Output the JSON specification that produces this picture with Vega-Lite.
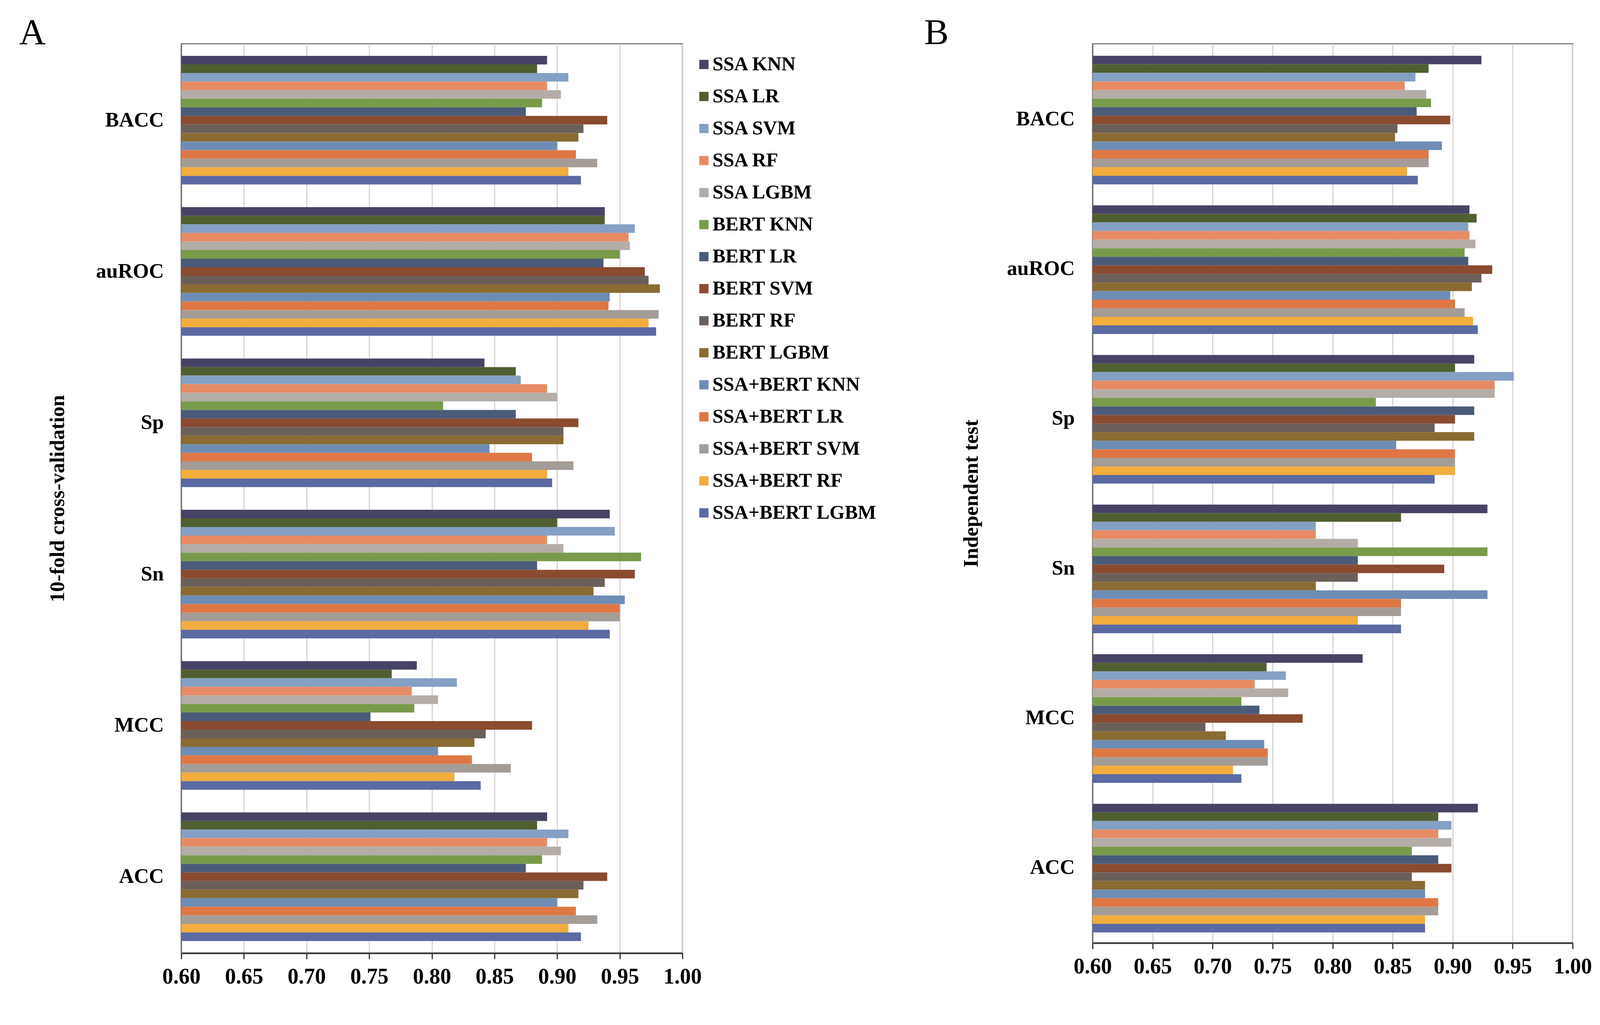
{
  "$schema": "https://vega.github.io/schema/vega-lite/v6.json",
  "background": "white",
  "padding": {"left": 47, "top": 36, "right": 40, "bottom": 30},
  "bounds": "flush",
  "spacing": 1050,
  "config": {
    "font": "Liberation Serif",
    "view": {"stroke": "#7d7874", "strokeWidth": 3},
    "axis": {"labelFont": "Liberation Serif", "titleFont": "Liberation Serif", "labelColor": "black", "titleColor": "black", "labelFontWeight": "bold", "titleFontWeight": "bold", "labelFontSize": 53, "titleFontSize": 53},
    "title": {"font": "Liberation Serif", "fontSize": 94, "fontWeight": "normal", "color": "black", "anchor": "start", "frame": "group"}
  },
  "datasets": {
    "cv": [
      {"metric":"BACC","model":"SSA KNN","value":0.892},{"metric":"BACC","model":"SSA LR","value":0.884},{"metric":"BACC","model":"SSA SVM","value":0.909},{"metric":"BACC","model":"SSA RF","value":0.892},{"metric":"BACC","model":"SSA LGBM","value":0.903},{"metric":"BACC","model":"BERT KNN","value":0.888},{"metric":"BACC","model":"BERT LR","value":0.875},{"metric":"BACC","model":"BERT SVM","value":0.940},{"metric":"BACC","model":"BERT RF","value":0.921},{"metric":"BACC","model":"BERT LGBM","value":0.917},{"metric":"BACC","model":"SSA+BERT KNN","value":0.900},{"metric":"BACC","model":"SSA+BERT LR","value":0.915},{"metric":"BACC","model":"SSA+BERT SVM","value":0.932},{"metric":"BACC","model":"SSA+BERT RF","value":0.909},{"metric":"BACC","model":"SSA+BERT LGBM","value":0.919},
      {"metric":"auROC","model":"SSA KNN","value":0.938},{"metric":"auROC","model":"SSA LR","value":0.938},{"metric":"auROC","model":"SSA SVM","value":0.962},{"metric":"auROC","model":"SSA RF","value":0.957},{"metric":"auROC","model":"SSA LGBM","value":0.958},{"metric":"auROC","model":"BERT KNN","value":0.950},{"metric":"auROC","model":"BERT LR","value":0.937},{"metric":"auROC","model":"BERT SVM","value":0.970},{"metric":"auROC","model":"BERT RF","value":0.973},{"metric":"auROC","model":"BERT LGBM","value":0.982},{"metric":"auROC","model":"SSA+BERT KNN","value":0.942},{"metric":"auROC","model":"SSA+BERT LR","value":0.941},{"metric":"auROC","model":"SSA+BERT SVM","value":0.981},{"metric":"auROC","model":"SSA+BERT RF","value":0.973},{"metric":"auROC","model":"SSA+BERT LGBM","value":0.979},
      {"metric":"Sp","model":"SSA KNN","value":0.842},{"metric":"Sp","model":"SSA LR","value":0.867},{"metric":"Sp","model":"SSA SVM","value":0.871},{"metric":"Sp","model":"SSA RF","value":0.892},{"metric":"Sp","model":"SSA LGBM","value":0.900},{"metric":"Sp","model":"BERT KNN","value":0.809},{"metric":"Sp","model":"BERT LR","value":0.867},{"metric":"Sp","model":"BERT SVM","value":0.917},{"metric":"Sp","model":"BERT RF","value":0.905},{"metric":"Sp","model":"BERT LGBM","value":0.905},{"metric":"Sp","model":"SSA+BERT KNN","value":0.846},{"metric":"Sp","model":"SSA+BERT LR","value":0.880},{"metric":"Sp","model":"SSA+BERT SVM","value":0.913},{"metric":"Sp","model":"SSA+BERT RF","value":0.892},{"metric":"Sp","model":"SSA+BERT LGBM","value":0.896},
      {"metric":"Sn","model":"SSA KNN","value":0.942},{"metric":"Sn","model":"SSA LR","value":0.900},{"metric":"Sn","model":"SSA SVM","value":0.946},{"metric":"Sn","model":"SSA RF","value":0.892},{"metric":"Sn","model":"SSA LGBM","value":0.905},{"metric":"Sn","model":"BERT KNN","value":0.967},{"metric":"Sn","model":"BERT LR","value":0.884},{"metric":"Sn","model":"BERT SVM","value":0.962},{"metric":"Sn","model":"BERT RF","value":0.938},{"metric":"Sn","model":"BERT LGBM","value":0.929},{"metric":"Sn","model":"SSA+BERT KNN","value":0.954},{"metric":"Sn","model":"SSA+BERT LR","value":0.950},{"metric":"Sn","model":"SSA+BERT SVM","value":0.950},{"metric":"Sn","model":"SSA+BERT RF","value":0.925},{"metric":"Sn","model":"SSA+BERT LGBM","value":0.942},
      {"metric":"MCC","model":"SSA KNN","value":0.788},{"metric":"MCC","model":"SSA LR","value":0.768},{"metric":"MCC","model":"SSA SVM","value":0.820},{"metric":"MCC","model":"SSA RF","value":0.784},{"metric":"MCC","model":"SSA LGBM","value":0.805},{"metric":"MCC","model":"BERT KNN","value":0.786},{"metric":"MCC","model":"BERT LR","value":0.751},{"metric":"MCC","model":"BERT SVM","value":0.880},{"metric":"MCC","model":"BERT RF","value":0.843},{"metric":"MCC","model":"BERT LGBM","value":0.834},{"metric":"MCC","model":"SSA+BERT KNN","value":0.805},{"metric":"MCC","model":"SSA+BERT LR","value":0.832},{"metric":"MCC","model":"SSA+BERT SVM","value":0.863},{"metric":"MCC","model":"SSA+BERT RF","value":0.818},{"metric":"MCC","model":"SSA+BERT LGBM","value":0.839},
      {"metric":"ACC","model":"SSA KNN","value":0.892},{"metric":"ACC","model":"SSA LR","value":0.884},{"metric":"ACC","model":"SSA SVM","value":0.909},{"metric":"ACC","model":"SSA RF","value":0.892},{"metric":"ACC","model":"SSA LGBM","value":0.903},{"metric":"ACC","model":"BERT KNN","value":0.888},{"metric":"ACC","model":"BERT LR","value":0.875},{"metric":"ACC","model":"BERT SVM","value":0.940},{"metric":"ACC","model":"BERT RF","value":0.921},{"metric":"ACC","model":"BERT LGBM","value":0.917},{"metric":"ACC","model":"SSA+BERT KNN","value":0.900},{"metric":"ACC","model":"SSA+BERT LR","value":0.915},{"metric":"ACC","model":"SSA+BERT SVM","value":0.932},{"metric":"ACC","model":"SSA+BERT RF","value":0.909},{"metric":"ACC","model":"SSA+BERT LGBM","value":0.919}
    ],
    "ind": [
      {"metric":"BACC","model":"SSA KNN","value":0.924},{"metric":"BACC","model":"SSA LR","value":0.880},{"metric":"BACC","model":"SSA SVM","value":0.869},{"metric":"BACC","model":"SSA RF","value":0.860},{"metric":"BACC","model":"SSA LGBM","value":0.878},{"metric":"BACC","model":"BERT KNN","value":0.882},{"metric":"BACC","model":"BERT LR","value":0.870},{"metric":"BACC","model":"BERT SVM","value":0.898},{"metric":"BACC","model":"BERT RF","value":0.854},{"metric":"BACC","model":"BERT LGBM","value":0.852},{"metric":"BACC","model":"SSA+BERT KNN","value":0.891},{"metric":"BACC","model":"SSA+BERT LR","value":0.880},{"metric":"BACC","model":"SSA+BERT SVM","value":0.880},{"metric":"BACC","model":"SSA+BERT RF","value":0.862},{"metric":"BACC","model":"SSA+BERT LGBM","value":0.871},
      {"metric":"auROC","model":"SSA KNN","value":0.914},{"metric":"auROC","model":"SSA LR","value":0.920},{"metric":"auROC","model":"SSA SVM","value":0.913},{"metric":"auROC","model":"SSA RF","value":0.914},{"metric":"auROC","model":"SSA LGBM","value":0.919},{"metric":"auROC","model":"BERT KNN","value":0.910},{"metric":"auROC","model":"BERT LR","value":0.913},{"metric":"auROC","model":"BERT SVM","value":0.933},{"metric":"auROC","model":"BERT RF","value":0.924},{"metric":"auROC","model":"BERT LGBM","value":0.916},{"metric":"auROC","model":"SSA+BERT KNN","value":0.898},{"metric":"auROC","model":"SSA+BERT LR","value":0.902},{"metric":"auROC","model":"SSA+BERT SVM","value":0.910},{"metric":"auROC","model":"SSA+BERT RF","value":0.917},{"metric":"auROC","model":"SSA+BERT LGBM","value":0.921},
      {"metric":"Sp","model":"SSA KNN","value":0.918},{"metric":"Sp","model":"SSA LR","value":0.902},{"metric":"Sp","model":"SSA SVM","value":0.951},{"metric":"Sp","model":"SSA RF","value":0.935},{"metric":"Sp","model":"SSA LGBM","value":0.935},{"metric":"Sp","model":"BERT KNN","value":0.836},{"metric":"Sp","model":"BERT LR","value":0.918},{"metric":"Sp","model":"BERT SVM","value":0.902},{"metric":"Sp","model":"BERT RF","value":0.885},{"metric":"Sp","model":"BERT LGBM","value":0.918},{"metric":"Sp","model":"SSA+BERT KNN","value":0.853},{"metric":"Sp","model":"SSA+BERT LR","value":0.902},{"metric":"Sp","model":"SSA+BERT SVM","value":0.902},{"metric":"Sp","model":"SSA+BERT RF","value":0.902},{"metric":"Sp","model":"SSA+BERT LGBM","value":0.885},
      {"metric":"Sn","model":"SSA KNN","value":0.929},{"metric":"Sn","model":"SSA LR","value":0.857},{"metric":"Sn","model":"SSA SVM","value":0.786},{"metric":"Sn","model":"SSA RF","value":0.786},{"metric":"Sn","model":"SSA LGBM","value":0.821},{"metric":"Sn","model":"BERT KNN","value":0.929},{"metric":"Sn","model":"BERT LR","value":0.821},{"metric":"Sn","model":"BERT SVM","value":0.893},{"metric":"Sn","model":"BERT RF","value":0.821},{"metric":"Sn","model":"BERT LGBM","value":0.786},{"metric":"Sn","model":"SSA+BERT KNN","value":0.929},{"metric":"Sn","model":"SSA+BERT LR","value":0.857},{"metric":"Sn","model":"SSA+BERT SVM","value":0.857},{"metric":"Sn","model":"SSA+BERT RF","value":0.821},{"metric":"Sn","model":"SSA+BERT LGBM","value":0.857},
      {"metric":"MCC","model":"SSA KNN","value":0.825},{"metric":"MCC","model":"SSA LR","value":0.745},{"metric":"MCC","model":"SSA SVM","value":0.761},{"metric":"MCC","model":"SSA RF","value":0.735},{"metric":"MCC","model":"SSA LGBM","value":0.763},{"metric":"MCC","model":"BERT KNN","value":0.724},{"metric":"MCC","model":"BERT LR","value":0.739},{"metric":"MCC","model":"BERT SVM","value":0.775},{"metric":"MCC","model":"BERT RF","value":0.694},{"metric":"MCC","model":"BERT LGBM","value":0.711},{"metric":"MCC","model":"SSA+BERT KNN","value":0.743},{"metric":"MCC","model":"SSA+BERT LR","value":0.746},{"metric":"MCC","model":"SSA+BERT SVM","value":0.746},{"metric":"MCC","model":"SSA+BERT RF","value":0.717},{"metric":"MCC","model":"SSA+BERT LGBM","value":0.724},
      {"metric":"ACC","model":"SSA KNN","value":0.921},{"metric":"ACC","model":"SSA LR","value":0.888},{"metric":"ACC","model":"SSA SVM","value":0.899},{"metric":"ACC","model":"SSA RF","value":0.888},{"metric":"ACC","model":"SSA LGBM","value":0.899},{"metric":"ACC","model":"BERT KNN","value":0.866},{"metric":"ACC","model":"BERT LR","value":0.888},{"metric":"ACC","model":"BERT SVM","value":0.899},{"metric":"ACC","model":"BERT RF","value":0.866},{"metric":"ACC","model":"BERT LGBM","value":0.877},{"metric":"ACC","model":"SSA+BERT KNN","value":0.877},{"metric":"ACC","model":"SSA+BERT LR","value":0.888},{"metric":"ACC","model":"SSA+BERT SVM","value":0.888},{"metric":"ACC","model":"SSA+BERT RF","value":0.877},{"metric":"ACC","model":"SSA+BERT LGBM","value":0.877}
    ]
  },
  "resolve": {"legend": {"color": "independent"}},
  "hconcat": [
    {
      "title": {"text": "A", "dx": -415, "offset": -21},
      "data": {"name": "cv"},
      "width": 1283,
      "height": 2328,
      "mark": {"type": "bar"},
      "encoding": {
        "y": {"field": "metric", "type": "nominal", "sort": ["BACC","auROC","Sp","Sn","MCC","ACC"], "scale": {"paddingInner": 0.15, "paddingOuter": 0.08},
              "axis": {"title": "10-fold cross-validation", "ticks": false, "labelPadding": 45, "titlePadding": 90, "domainColor": "#6e6a66", "domainWidth": 3}},
        "yOffset": {"field": "model", "type": "nominal", "sort": ["SSA KNN","SSA LR","SSA SVM","SSA RF","SSA LGBM","BERT KNN","BERT LR","BERT SVM","BERT RF","BERT LGBM","SSA+BERT KNN","SSA+BERT LR","SSA+BERT SVM","SSA+BERT RF","SSA+BERT LGBM"], "scale": {"paddingInner": 0, "paddingOuter": 0}},
        "x": {"field": "value", "type": "quantitative", "scale": {"domain": [0.6, 1.0], "zero": false, "nice": false},
              "axis": {"title": null, "values": [0.6,0.65,0.7,0.75,0.8,0.85,0.9,0.95,1.0], "format": ".2f", "labelFontSize": 56, "labelFlush": false, "labelOverlap": false, "grid": true, "gridColor": "#d9d3d3", "gridWidth": 3, "tickSize": 15, "tickWidth": 3, "tickColor": "#333333", "domainColor": "#333333", "domainWidth": 4, "labelPadding": 18}},
        "x2": {"datum": 0.6},
        "color": {"field": "model", "type": "nominal",
                  "scale": {"domain": ["SSA KNN","SSA LR","SSA SVM","SSA RF","SSA LGBM","BERT KNN","BERT LR","BERT SVM","BERT RF","BERT LGBM","SSA+BERT KNN","SSA+BERT LR","SSA+BERT SVM","SSA+BERT RF","SSA+BERT LGBM"],
                            "range": ["#474366","#4f5f30","#84a0c4","#e78b64","#b4aca7","#789b4a","#4a5b7a","#8a4b2f","#6b5f5a","#8a6b32","#6e8db5","#df7744","#a49c97","#f2ad3e","#5b6aa3"]},
                  "legend": {"title": null, "orient": "none", "legendX": 1313, "legendY": 28, "padding": 0, "symbolType": "square", "symbolSize": 560, "symbolStrokeWidth": 0, "labelFont": "Liberation Serif", "labelFontWeight": "bold", "labelFontSize": 50, "labelColor": "black", "labelOffset": -3, "rowPadding": 32, "labelLimit": 800}}
      }
    },
    {
      "title": {"text": "B", "dx": -431, "offset": -21},
      "data": {"name": "ind"},
      "width": 1229,
      "height": 2302,
      "mark": {"type": "bar"},
      "encoding": {
        "y": {"field": "metric", "type": "nominal", "sort": ["BACC","auROC","Sp","Sn","MCC","ACC"], "scale": {"paddingInner": 0.15, "paddingOuter": 0.08},
              "axis": {"title": "Independent test", "ticks": false, "labelPadding": 46, "titlePadding": 84, "domainColor": "#6e6a66", "domainWidth": 3}},
        "yOffset": {"field": "model", "type": "nominal", "sort": ["SSA KNN","SSA LR","SSA SVM","SSA RF","SSA LGBM","BERT KNN","BERT LR","BERT SVM","BERT RF","BERT LGBM","SSA+BERT KNN","SSA+BERT LR","SSA+BERT SVM","SSA+BERT RF","SSA+BERT LGBM"], "scale": {"paddingInner": 0, "paddingOuter": 0}},
        "x": {"field": "value", "type": "quantitative", "scale": {"domain": [0.6, 1.0], "zero": false, "nice": false},
              "axis": {"title": null, "values": [0.6,0.65,0.7,0.75,0.8,0.85,0.9,0.95,1.0], "format": ".2f", "labelFontSize": 56, "labelFlush": false, "labelOverlap": false, "grid": true, "gridColor": "#d9d3d3", "gridWidth": 3, "tickSize": 15, "tickWidth": 3, "tickColor": "#333333", "domainColor": "#333333", "domainWidth": 4, "labelPadding": 18}},
        "x2": {"datum": 0.6},
        "color": {"field": "model", "type": "nominal",
                  "scale": {"domain": ["SSA KNN","SSA LR","SSA SVM","SSA RF","SSA LGBM","BERT KNN","BERT LR","BERT SVM","BERT RF","BERT LGBM","SSA+BERT KNN","SSA+BERT LR","SSA+BERT SVM","SSA+BERT RF","SSA+BERT LGBM"],
                            "range": ["#474366","#4f5f30","#84a0c4","#e78b64","#b4aca7","#789b4a","#4a5b7a","#8a4b2f","#6b5f5a","#8a6b32","#6e8db5","#df7744","#a49c97","#f2ad3e","#5b6aa3"]},
                  "legend": null}
      }
    }
  ]
}
